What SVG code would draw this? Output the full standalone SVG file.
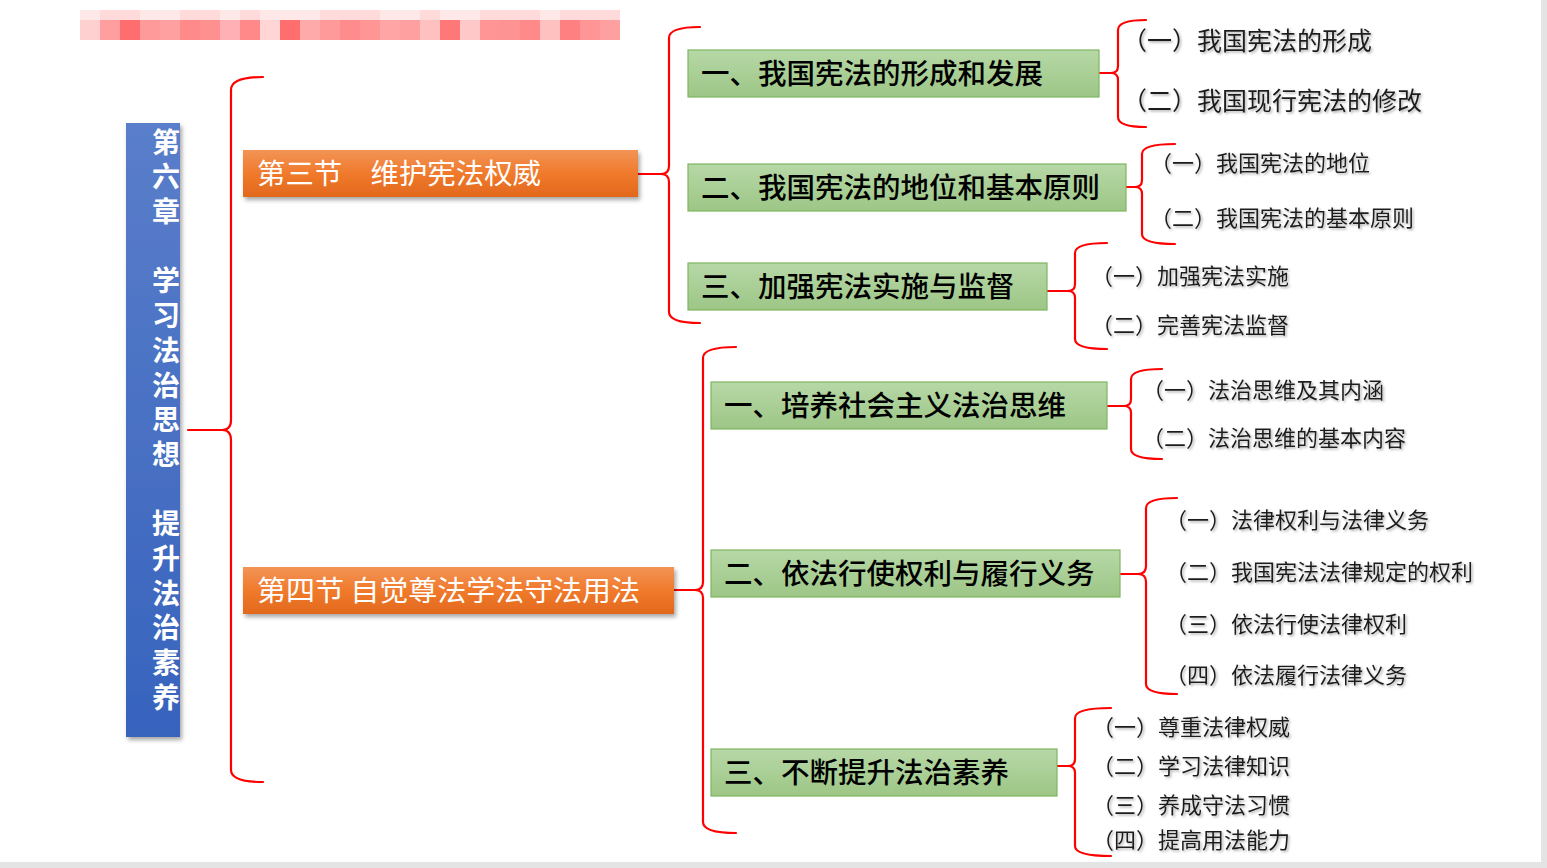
<svg xmlns="http://www.w3.org/2000/svg" width="1547" height="868" viewBox="0 0 1547 868">
<defs>
<linearGradient id="gBlue" x1="0" y1="0" x2="0" y2="1"><stop offset="0" stop-color="#5A7ECA"/><stop offset="1" stop-color="#3763BD"/></linearGradient>
<linearGradient id="gOrange" x1="0" y1="0" x2="0" y2="1"><stop offset="0" stop-color="#F29456"/><stop offset="0.5" stop-color="#F07A2C"/><stop offset="1" stop-color="#E2681C"/></linearGradient>
<linearGradient id="gGreen" x1="0" y1="0" x2="0" y2="1"><stop offset="0" stop-color="#B7D8A7"/><stop offset="1" stop-color="#9DC686"/></linearGradient>
<filter id="shadow" x="-10%" y="-20%" width="130%" height="160%"><feDropShadow dx="2" dy="3" stdDeviation="2" flood-color="#000" flood-opacity="0.35"/></filter>
<filter id="tshadow" x="-5%" y="-20%" width="115%" height="160%"><feDropShadow dx="1.5" dy="1.5" stdDeviation="0.8" flood-color="#777" flood-opacity="0.6"/></filter>
</defs>
<style>
.br{fill:none;stroke:#FF0000;stroke-width:2.2;stroke-linecap:round;stroke-linejoin:round}
.green{fill:url(#gGreen);stroke:#7DB661;stroke-width:1.2}
.orange{fill:url(#gOrange);filter:url(#shadow)}
.gt{font-family:"Noto Sans CJK SC","Noto Sans CJK JP",sans-serif;font-size:28.5px;font-weight:500;fill:#000}
.ot{font-family:"Noto Sans CJK SC","Noto Sans CJK JP",sans-serif;font-size:28.4px;font-weight:400;fill:#fff}
.st{font-family:"Noto Sans CJK SC","Noto Sans CJK JP",sans-serif;font-weight:400;fill:#1a1a1a;filter:url(#tshadow)}
.bt{font-family:"Noto Sans CJK SC","Noto Sans CJK JP",sans-serif;font-size:28px;font-weight:700;fill:#fff;writing-mode:vertical-rl;letter-spacing:6.7px}
</style>
<rect width="1547" height="868" fill="#fff"/>
<rect x="1541" y="0" width="6" height="868" fill="#E4E4E4"/>
<rect x="0" y="862" width="1547" height="6" fill="#E4E4E4"/>
<g id="blurbar">
<rect x="80" y="10" width="540" height="10" fill="#FFE8E8"/>
<g>
<rect x="80" y="20" width="20" height="20" fill="#FFD0D0"/><rect x="100" y="20" width="20" height="20" fill="#FF9E9E"/><rect x="120" y="20" width="20" height="20" fill="#FF6E6E"/><rect x="140" y="20" width="20" height="20" fill="#FF9A9A"/><rect x="160" y="20" width="20" height="20" fill="#FFA0A0"/><rect x="180" y="20" width="20" height="20" fill="#FF8A8A"/><rect x="200" y="20" width="20" height="20" fill="#FF9090"/><rect x="220" y="20" width="20" height="20" fill="#FFB0B5"/><rect x="240" y="20" width="20" height="20" fill="#FF8888"/><rect x="260" y="20" width="20" height="20" fill="#FFD5D5"/><rect x="280" y="20" width="20" height="20" fill="#FF6E6E"/><rect x="300" y="20" width="20" height="20" fill="#FFAAAA"/><rect x="320" y="20" width="20" height="20" fill="#FF9A9A"/><rect x="340" y="20" width="20" height="20" fill="#FF8C8C"/><rect x="360" y="20" width="20" height="20" fill="#FF9595"/><rect x="380" y="20" width="20" height="20" fill="#FFA5A5"/><rect x="400" y="20" width="20" height="20" fill="#FFA0A0"/><rect x="420" y="20" width="20" height="20" fill="#FFC0C0"/><rect x="440" y="20" width="20" height="20" fill="#FF7878"/><rect x="460" y="20" width="20" height="20" fill="#FFC8C8"/><rect x="480" y="20" width="20" height="20" fill="#FF9595"/><rect x="500" y="20" width="20" height="20" fill="#FF9292"/><rect x="520" y="20" width="20" height="20" fill="#FF8A8A"/><rect x="540" y="20" width="20" height="20" fill="#FFC0C0"/><rect x="560" y="20" width="20" height="20" fill="#FF8080"/><rect x="580" y="20" width="20" height="20" fill="#FF9595"/><rect x="600" y="20" width="20" height="20" fill="#FFA0A0"/>
</g>
<g fill="#FFDADA"><rect x="100" y="10" width="40" height="10"/><rect x="180" y="10" width="40" height="10"/><rect x="240" y="10" width="20" height="10"/><rect x="320" y="10" width="60" height="10"/><rect x="420" y="10" width="20" height="10"/><rect x="480" y="10" width="60" height="10"/><rect x="560" y="10" width="60" height="10"/></g>
</g>
<g id="connectors">
<path class="br" d="M263 77 Q231 77 231 90 L231 420 Q231 430 222 430 L188 430 M222 430 Q231 430 231 440 L231 770 Q231 782 263 782"/>
<path class="br" d="M700 27 Q669 27 669 38 L669 166 Q669 174 661 174 L638 174 M661 174 Q669 174 669 182 L669 312 Q669 323 700 323"/>
<path class="br" d="M736 347 Q703 347 703 358 L703 582 Q703 590 695 590 L674 590 M695 590 Q703 590 703 598 L703 822 Q703 833 736 833"/>
<path class="br" d="M1146 20 Q1118 20 1118 30 L1118 66 Q1118 73 1111 73 L1099 73 M1111 73 Q1118 73 1118 80 L1118 117 Q1118 127 1146 127"/>
<path class="br" d="M1175 144 Q1142 144 1142 154 L1142 180 Q1142 187 1135 187 L1126 187 M1135 187 Q1142 187 1142 194 L1142 234 Q1142 244 1175 244"/>
<path class="br" d="M1107 243 Q1075 243 1075 253 L1075 284 Q1075 291 1068 291 L1047 291 M1068 291 Q1075 291 1075 298 L1075 339 Q1075 349 1107 349"/>
<path class="br" d="M1162 369 Q1131 369 1131 379 L1131 399 Q1131 406 1124 406 L1107 406 M1124 406 Q1131 406 1131 413 L1131 449 Q1131 459 1162 459"/>
<path class="br" d="M1177 498 Q1146 498 1146 508 L1146 566 Q1146 574 1138 574 L1120 574 M1138 574 Q1146 574 1146 582 L1146 684 Q1146 694 1177 694"/>
<path class="br" d="M1111 708 Q1075 708 1075 718 L1075 759 Q1075 766 1068 766 L1057 766 M1068 766 Q1075 766 1075 773 L1075 846 Q1075 856 1111 856"/>
</g>
<g id="chapter">
<rect x="126" y="123" width="54" height="614" fill="url(#gBlue)" filter="url(#shadow)"/>
<text class="bt" x="166" y="128">第六章　学习法治思想　提升法治素养</text>
</g>
<g id="sec3">
<rect class="orange" x="243" y="150" width="395" height="47"/>
<text class="ot" x="257" y="184">第三节　维护宪法权威</text>
</g>
<g id="sec4">
<rect class="orange" x="243" y="567" width="431" height="47"/>
<text class="ot" x="257" y="601" textLength="383" lengthAdjust="spacingAndGlyphs">第四节 自觉尊法学法守法用法</text>
</g>
<g id="s3-1">
<rect class="green" x="688" y="50" width="411" height="47"/>
<text class="gt" x="701" y="84">一、我国宪法的形成和发展</text>
</g>
<g id="s3-2">
<rect class="green" x="688" y="164" width="438" height="47"/>
<text class="gt" x="701" y="198">二、我国宪法的地位和基本原则</text>
</g>
<g id="s3-3">
<rect class="green" x="688" y="263" width="359" height="47"/>
<text class="gt" x="701" y="297">三、加强宪法实施与监督</text>
</g>
<g id="s4-1">
<rect class="green" x="711" y="382" width="396" height="47"/>
<text class="gt" x="724" y="416">一、培养社会主义法治思维</text>
</g>
<g id="s4-2">
<rect class="green" x="711" y="550" width="409" height="47"/>
<text class="gt" x="724" y="584">二、依法行使权利与履行义务</text>
</g>
<g id="s4-3">
<rect class="green" x="711" y="749" width="346" height="47"/>
<text class="gt" x="724" y="783">三、不断提升法治素养</text>
</g>
<g id="items-3-1" class="st" font-size="25">
<text x="1122" y="50">（一）我国宪法的形成</text>
<text x="1122" y="110">（二）我国现行宪法的修改</text>
</g>
<g id="items-3-2" class="st" font-size="22">
<text x="1150" y="171">（一）我国宪法的地位</text>
<text x="1150" y="226">（二）我国宪法的基本原则</text>
</g>
<g id="items-3-3" class="st" font-size="22">
<text x="1091" y="284">（一）加强宪法实施</text>
<text x="1091" y="333">（二）完善宪法监督</text>
</g>
<g id="items-4-1" class="st" font-size="22">
<text x="1142" y="398">（一）法治思维及其内涵</text>
<text x="1142" y="446">（二）法治思维的基本内容</text>
</g>
<g id="items-4-2" class="st" font-size="22">
<text x="1165" y="528">（一）法律权利与法律义务</text>
<text x="1165" y="580">（二）我国宪法法律规定的权利</text>
<text x="1165" y="632">（三）依法行使法律权利</text>
<text x="1165" y="683">（四）依法履行法律义务</text>
</g>
<g id="items-4-3" class="st" font-size="22">
<text x="1092" y="735">（一）尊重法律权威</text>
<text x="1092" y="774">（二）学习法律知识</text>
<text x="1092" y="813">（三）养成守法习惯</text>
<text x="1092" y="848">（四）提高用法能力</text>
</g>
</svg>
